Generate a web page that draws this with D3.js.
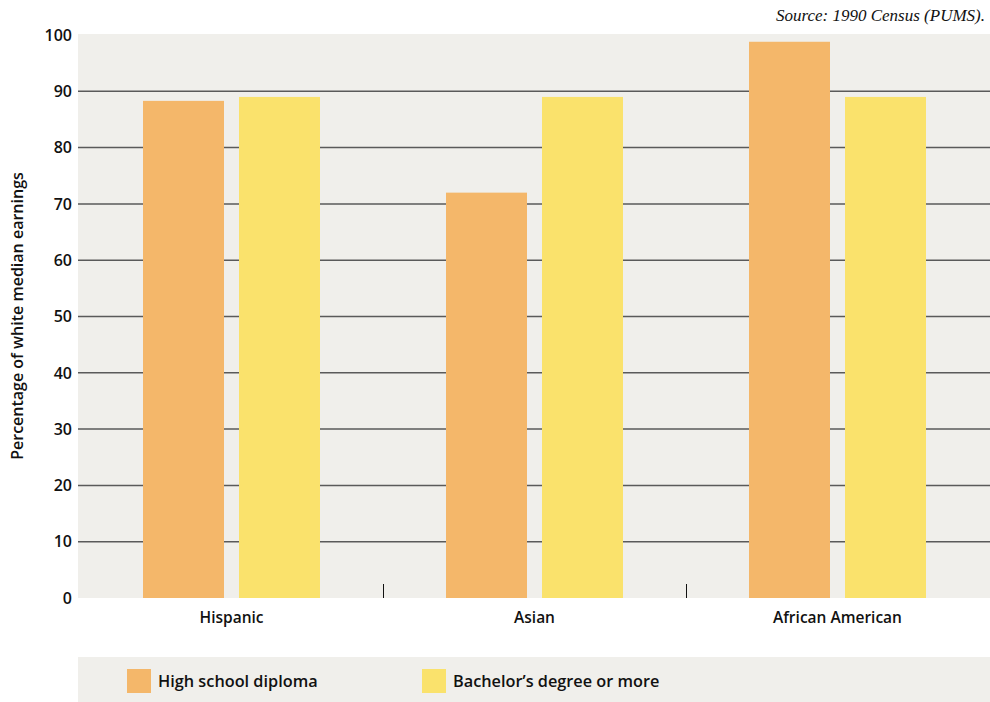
<!DOCTYPE html>
<html><head><meta charset="utf-8">
<script src="https://cdn.jsdelivr.net/npm/d3@7"></script>
<style>body{margin:0;background:#fff;}svg{display:block;}</style>
</head><body>
<svg id="c" width="990" height="702"></svg>
<script>
const categories = ["Hispanic", "Asian", "African American"];
const seriesNames = ["High school diploma", "Bachelor\u2019s degree or more"];
const highSchool = [88.3, 72, 98.8];
const bachelor = [89, 89, 89];
const yTicks = [0,10,20,30,40,50,60,70,80,90,100];
const colors = ["#f4b76a", "#fae26c"];

const svg = d3.select("#c");
const plot = {left:78, right:990, top:34, bottom:598};
const font = "'Open Sans', 'Noto Sans', sans-serif";

const y = d3.scaleLinear().domain([0,100]).range([plot.bottom, 35]);
const x0 = d3.scaleBand().domain(categories).range([80, 989]).paddingInner(0).paddingOuter(0);
const groupW = 177;
const x1 = d3.scaleBand().domain([0,1]).range([0, groupW]).paddingInner(15/96);

svg.append("rect").attr("x",plot.left).attr("y",plot.top).attr("width",plot.right-plot.left).attr("height",plot.bottom-plot.top).attr("fill","#f0efeb");

// gridlines
svg.append("g").selectAll("line").data(yTicks.filter(d=>d>0&&d<100)).join("line")
  .attr("x1",plot.left).attr("x2",plot.right)
  .attr("y1",d=>y(d)).attr("y2",d=>y(d))
  .attr("stroke","#5a5a5a").attr("stroke-width",1.5);

// y tick labels
svg.append("g").selectAll("text").data(yTicks).join("text")
  .attr("x",72).attr("y",d=>y(d)).attr("dy","0.36em")
  .attr("text-anchor","end").attr("font-family",font).attr("font-weight",600)
  .attr("font-size",16).attr("fill","#111").text(d=>d);

// bars
const data = categories.map((c,i)=>({cat:c, vals:[highSchool[i], bachelor[i]]}));
const groups = svg.append("g").selectAll("g").data(data).join("g")
  .attr("transform",d=>`translate(${x0(d.cat)+x0.bandwidth()/2-groupW/2},0)`);
groups.selectAll("rect").data(d=>d.vals.map((v,j)=>({v,j}))).join("rect")
  .attr("x",d=>x1(d.j)).attr("width",x1.bandwidth())
  .attr("y",d=>y(d.v)).attr("height",d=>plot.bottom-y(d.v))
  .attr("fill",d=>colors[d.j]);

// separator ticks
svg.append("g").selectAll("line").data(categories.slice(1)).join("line")
  .attr("x1",d=>x0(d)+0.5).attr("x2",d=>x0(d)+0.5)
  .attr("y1",584).attr("y2",plot.bottom)
  .attr("stroke","#111").attr("stroke-width",1);

// category labels
svg.append("g").selectAll("text").data(categories).join("text")
  .attr("x",d=>x0(d)+x0.bandwidth()/2).attr("y",623)
  .attr("text-anchor","middle").attr("font-family",font).attr("font-weight",600)
  .attr("font-size",15.5).attr("fill","#111").text(d=>d);

// y label
svg.append("text").attr("transform","translate(23,316) rotate(-90)")
  .attr("text-anchor","middle").attr("font-family",font).attr("font-weight",600)
  .attr("font-size",16).attr("fill","#111").text("Percentage of white median earnings");

// source
svg.append("text").attr("x",985).attr("y",21).attr("text-anchor","end")
  .attr("font-family","'Liberation Serif', serif").attr("font-style","italic")
  .attr("font-size",17).attr("fill","#111").text("Source: 1990 Census (PUMS).");

// legend
svg.append("rect").attr("x",78).attr("y",657).attr("width",912).attr("height",45).attr("fill","#f0efeb");
const legX = [127, 422];
const lg = svg.append("g").selectAll("g").data(seriesNames).join("g")
  .attr("transform",(d,i)=>`translate(${legX[i]},669)`);
lg.append("rect").attr("width",24).attr("height",24).attr("fill",(d,i)=>colors[i]);
lg.append("text").attr("x",31).attr("y",12).attr("dy","0.36em")
  .attr("font-family",font).attr("font-weight",600).attr("font-size",16.3).attr("fill","#111").text(d=>d);
</script>
</body></html>
